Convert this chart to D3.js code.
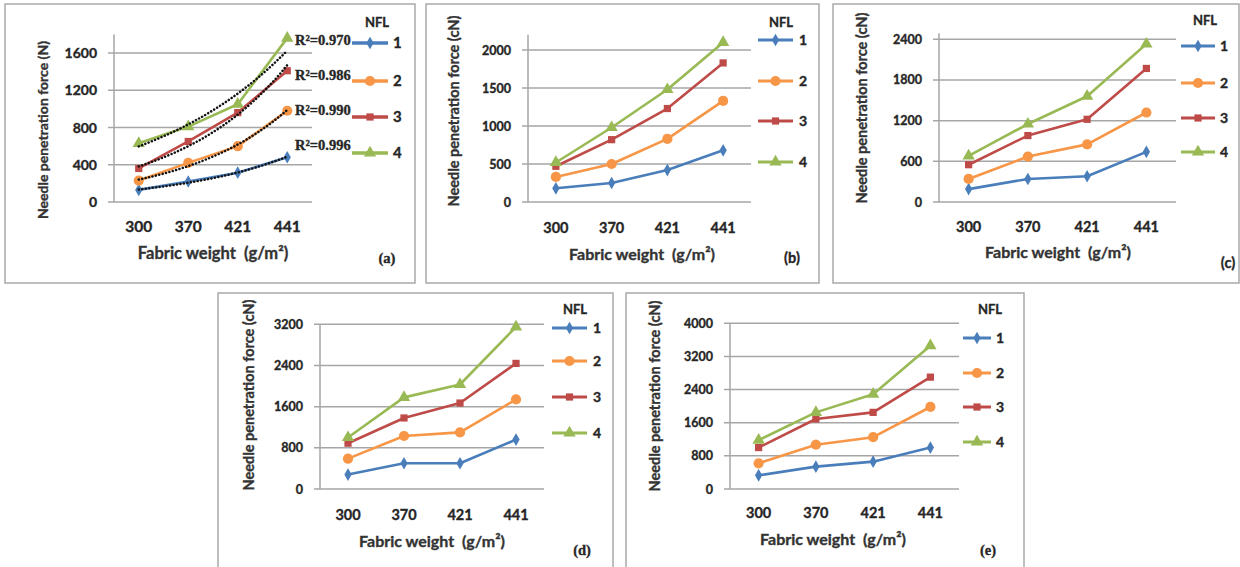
<!DOCTYPE html>
<html>
<head>
<meta charset="utf-8">
<script src="https://cdn.jsdelivr.net/npm/d3@7"></script>
<style>
  body { margin: 0; background: #fff; }
  svg { display: block; }
  text.heavy { paint-order: stroke; stroke-width: 0.35px; }
</style>
</head>
<body>
<svg id="chart" width="1240" height="567"></svg>
<script>
// Fabric weight categories (g/m²) and needle-felting levels (NFL)
const categories = ["300", "370", "421", "441"];
const nflLevels = ["1", "2", "3", "4"];

// Needle penetration force, one row per NFL level
const forceA = [
  [130, 220, 315, 480],
  [230, 420, 600, 980],
  [360, 650, 960, 1410],
  [630, 810, 1050, 1760]
];
const forceB = [
  [180, 250, 420, 680],
  [330, 500, 830, 1330],
  [470, 820, 1230, 1830],
  [520, 980, 1480, 2100]
];
const forceC = [
  [190, 340, 380, 740],
  [340, 670, 850, 1320],
  [550, 980, 1220, 1970],
  [680, 1150, 1560, 2330]
];
const forceD = [
  [280, 500, 500, 960],
  [590, 1030, 1100, 1740],
  [890, 1380, 1670, 2440],
  [1000, 1780, 2030, 3150]
];
const forceE = [
  [330, 540, 660, 1000],
  [620, 1070, 1250, 1980],
  [1000, 1690, 1850, 2700],
  [1180, 1850, 2290, 3460]
];

// Y tick labels
const ticksA = [0, 400, 800, 1200, 1600];
const ticksB = [0, 500, 1000, 1500, 2000];
const ticksC = [0, 600, 1200, 1800, 2400];
const ticksD = [0, 800, 1600, 2400, 3200];
const ticksE = [0, 800, 1600, 2400, 3200, 4000];

// Coefficients of determination of the exponential trendlines in (a), per NFL level
const r2A = ["0.996", "0.990", "0.986", "0.970"];

const colors = ["#4a7ebb", "#f79646", "#be4b48", "#98b954"];
const symbols = [d3.symbolDiamond, d3.symbolCircle, d3.symbolSquare, d3.symbolTriangle];
const symbolSizes = [46, 82, 52, 66];

const sans = "Lato, 'Open Sans', sans-serif";
const serif = "'Liberation Serif', 'DejaVu Serif', serif";
const ink = "#262626";

const panels = [
  {
    tag: "(a)", tagSerif: true, unit: "N", values: forceA, ticks: ticksA, yMax: 1800,
    frame: [5, 4, 410, 279],
    plot: { left: 114, right: 312, bottom: 202, top: 34.4 },
    fonts: { yTick: 14, xTick: 15.5, yTitle: 14, xTitle: 16.5, legend: 15 },
    yTitle: [43, 130], xTitle: [213, 259], tickBase: 232, tagPos: [387, 263],
    legend: { x1: 352, x2: 388, lx: 393, nfl: [377, 27], rows: [43, 81, 117, 153], width: 3.5 },
    trend: true, r2: r2A, r2Pos: [[295, 150], [295, 115], [295, 80], [295, 45]]
  },
  {
    tag: "(b)", tagSerif: false, unit: "cN", values: forceB, ticks: ticksB, yMax: 2200,
    frame: [426, 4, 393, 279],
    plot: { left: 528, right: 751, bottom: 202, top: 34.8 },
    fonts: { yTick: 12.5, xTick: 14.5, yTitle: 14.5, xTitle: 16, legend: 14 },
    yTitle: [454, 111], xTitle: [642, 260], tickBase: 233, tagPos: [792, 263],
    legend: { x1: 758, x2: 793, lx: 799, nfl: [781, 27], rows: [40, 81, 121, 162], width: 3 }
  },
  {
    tag: "(c)", tagSerif: false, unit: "cN", values: forceC, ticks: ticksC, yMax: 2490,
    frame: [833, 4, 406, 279],
    plot: { left: 939, right: 1176, bottom: 202, top: 33.2 },
    fonts: { yTick: 12.5, xTick: 14.5, yTitle: 14.5, xTitle: 16, legend: 14 },
    yTitle: [862, 108], xTitle: [1058, 258], tickBase: 232, tagPos: [1228, 268],
    legend: { x1: 1181, x2: 1215, lx: 1220, nfl: [1205, 25], rows: [46, 83, 118, 152], width: 3 }
  },
  {
    tag: "(d)", tagSerif: true, unit: "cN", values: forceD, ticks: ticksD, yMax: 3200,
    frame: [218, 293, 395, 290],
    plot: { left: 320, right: 544, bottom: 489, top: 324.3 },
    fonts: { yTick: 12.5, xTick: 14.5, yTitle: 14.5, xTitle: 16, legend: 14 },
    yTitle: [249, 395], xTitle: [432, 547], tickBase: 520, tagPos: [582, 555],
    legend: { x1: 552, x2: 587, lx: 593, nfl: [575, 314], rows: [328, 361, 397, 433], width: 3 }
  },
  {
    tag: "(e)", tagSerif: true, unit: "cN", values: forceE, ticks: ticksE, yMax: 4000,
    frame: [626, 293, 398, 290],
    plot: { left: 730, right: 959, bottom: 489, top: 323.3 },
    fonts: { yTick: 12.5, xTick: 14.5, yTitle: 14.5, xTitle: 16, legend: 14 },
    yTitle: [655, 396], xTitle: [833, 545], tickBase: 518, tagPos: [988, 555],
    legend: { x1: 963, x2: 991, lx: 996, nfl: [990, 314], rows: [338, 373, 407, 442], width: 3 }
  }
];

const svg = d3.select("#chart");
svg.append("rect").attr("width", 1240).attr("height", 567).attr("fill", "#fff");

// Exponential least-squares fit on the category index (1..n), as used for the trendlines
function expFit(ys) {
  const xs = ys.map((_, i) => i + 1);
  const ls = ys.map(Math.log);
  const mx = d3.mean(xs), ml = d3.mean(ls);
  const b = d3.sum(xs, (x, i) => (x - mx) * (ls[i] - ml)) / d3.sum(xs, x => (x - mx) ** 2);
  const a = ml - b * mx;
  return x => Math.exp(a + b * x);
}

function label(sel, size, fill, family) {
  return sel.attr("class", "heavy")
    .attr("font-family", family || sans).attr("font-weight", 700).attr("font-size", size)
    .attr("fill", fill).attr("stroke", fill);
}

panels.forEach(p => {
  const g = svg.append("g");
  const [fx, fy, fw, fh] = p.frame;
  g.append("rect")
    .attr("x", fx).attr("y", fy).attr("width", fw).attr("height", fh)
    .attr("fill", "#fff").attr("stroke", "#a9a9a9").attr("stroke-width", 1.5);

  const x = d3.scaleBand().domain(categories).range([p.plot.left, p.plot.right]);
  const y = d3.scaleLinear().domain([0, p.yMax]).range([p.plot.bottom, p.plot.top]);
  const cx = c => x(c) + x.bandwidth() / 2;

  // Horizontal gridlines with short outer ticks
  g.selectAll(".grid").data(p.ticks).join("line")
    .attr("x1", p.plot.left - 6).attr("x2", p.plot.right)
    .attr("y1", d => y(d)).attr("y2", d => y(d))
    .attr("stroke", "#a6a6a6").attr("stroke-width", 1.5);

  // Value axis line
  g.append("line")
    .attr("x1", p.plot.left).attr("x2", p.plot.left)
    .attr("y1", y(p.yMax)).attr("y2", y(0))
    .attr("stroke", "#a6a6a6").attr("stroke-width", 1.5);

  // Y tick labels
  label(g.selectAll(".ytick").data(p.ticks).join("text"), p.fonts.yTick, ink)
    .attr("x", p.plot.left - 17).attr("y", d => y(d))
    .attr("dy", "0.36em").attr("text-anchor", "end")
    .text(d => d);

  // X tick labels
  label(g.selectAll(".xtick").data(categories).join("text"), p.fonts.xTick, ink)
    .attr("x", d => cx(d)).attr("y", p.tickBase)
    .attr("text-anchor", "middle")
    .text(d => d);

  // Axis titles
  label(g.append("text"), p.fonts.yTitle, "#333")
    .attr("transform", `translate(${p.yTitle[0]},${p.yTitle[1]}) rotate(-90)`)
    .attr("dy", "0.35em").attr("text-anchor", "middle")
    .text(`Needle penetration force (${p.unit})`);

  label(g.append("text"), p.fonts.xTitle, "#333")
    .attr("x", p.xTitle[0]).attr("y", p.xTitle[1])
    .attr("text-anchor", "middle").style("white-space", "pre")
    .text("Fabric weight  (g/m²)");

  // Panel tag
  label(g.append("text"), 14.5, ink, p.tagSerif ? serif : sans)
    .attr("x", p.tagPos[0]).attr("y", p.tagPos[1])
    .attr("text-anchor", "middle")
    .text(p.tag);

  // Series lines and markers
  const line = d3.line().x((d, i) => cx(categories[i])).y(d => y(d));
  p.values.forEach((vals, s) => {
    g.append("path").datum(vals)
      .attr("d", line).attr("fill", "none")
      .attr("stroke", colors[s]).attr("stroke-width", 2.6)
      .attr("stroke-linejoin", "round");
    g.selectAll(null).data(vals).join("path")
      .attr("transform", (d, i) => `translate(${cx(categories[i])},${y(d)})`)
      .attr("d", d3.symbol(symbols[s], symbolSizes[s]))
      .attr("fill", colors[s]);
  });

  // Exponential trendlines with R² labels
  if (p.trend) {
    const xi = d3.scaleLinear().domain([1, categories.length])
      .range([cx(categories[0]), cx(categories[categories.length - 1])]);
    p.values.forEach(vals => {
      const f = expFit(vals);
      const pts = d3.range(1, categories.length + 0.001, 0.05);
      g.append("path").datum(pts)
        .attr("d", d3.line().x(t => xi(t)).y(t => y(f(t))))
        .attr("fill", "none").attr("stroke", "#111")
        .attr("stroke-width", 2.5).attr("stroke-linecap", "round")
        .attr("stroke-dasharray", "0.1 3.4");
    });
    p.r2.forEach((r, s) => {
      label(g.append("text"), 14.5, ink, serif)
        .attr("x", p.r2Pos[s][0]).attr("y", p.r2Pos[s][1])
        .text(`R²=${r}`);
    });
  }

  // Legend
  const L = p.legend;
  label(g.append("text"), 13, ink)
    .attr("x", L.nfl[0]).attr("y", L.nfl[1]).attr("text-anchor", "middle")
    .text("NFL");
  nflLevels.forEach((lvl, s) => {
    const ly = L.rows[s];
    g.append("line")
      .attr("x1", L.x1).attr("x2", L.x2).attr("y1", ly).attr("y2", ly)
      .attr("stroke", colors[s]).attr("stroke-width", L.width);
    g.append("path")
      .attr("transform", `translate(${(L.x1 + L.x2) / 2},${ly})`)
      .attr("d", d3.symbol(symbols[s], symbolSizes[s]))
      .attr("fill", colors[s]);
    label(g.append("text"), p.fonts.legend, ink)
      .attr("x", L.lx).attr("y", ly).attr("dy", "0.36em")
      .text(lvl);
  });
});
</script>
</body>
</html>
